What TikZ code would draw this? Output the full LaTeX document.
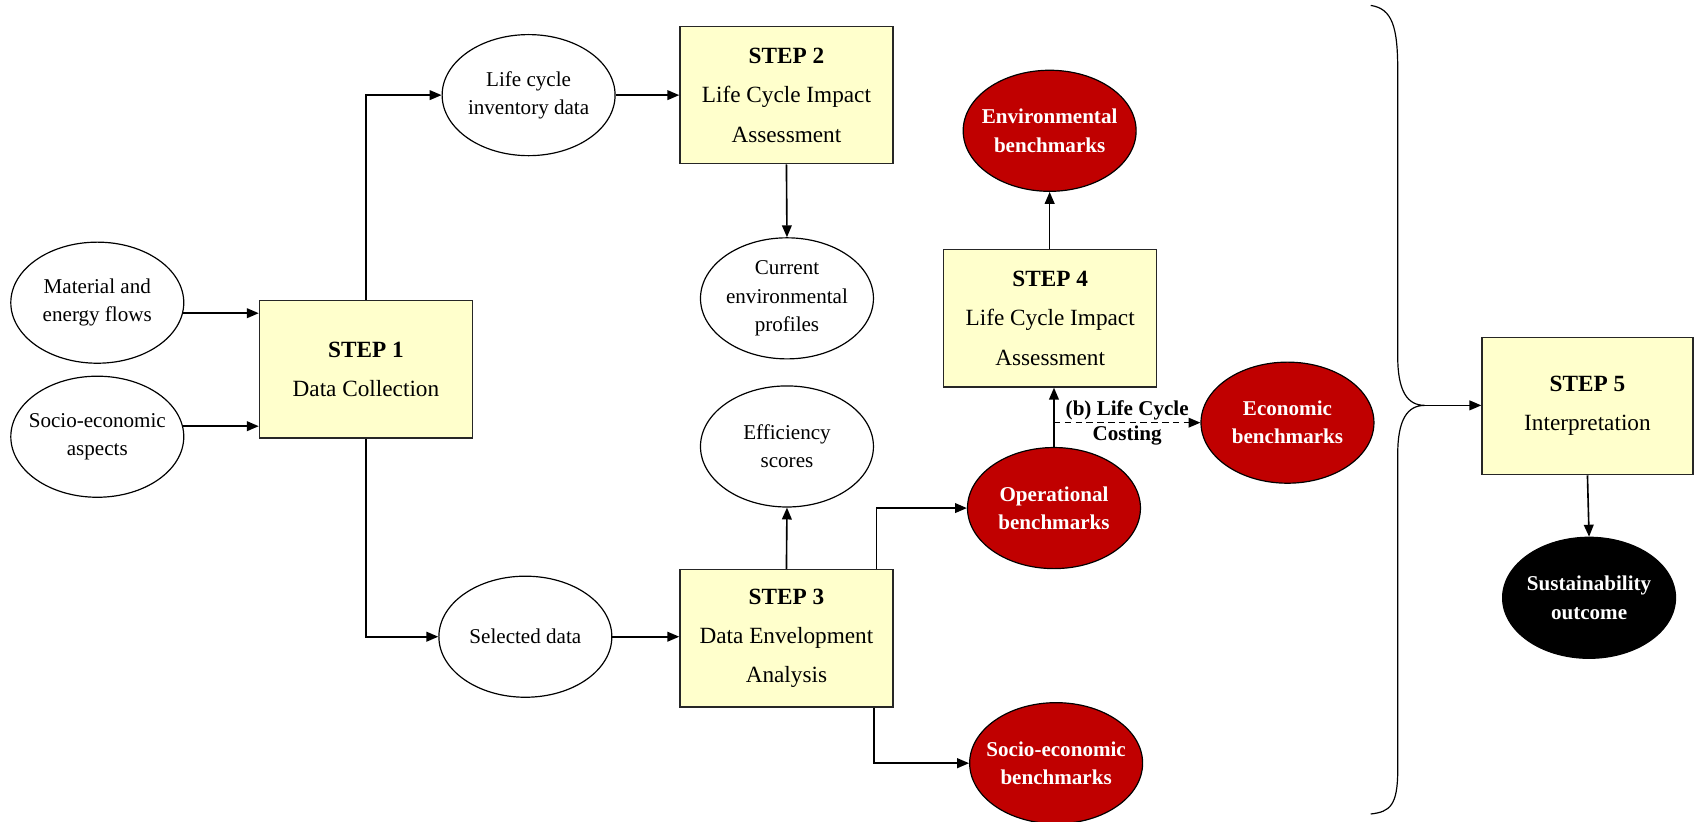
\documentclass[tikz,border=0pt]{standalone}
\usepackage{fontspec}
\setmainfont{Liberation Serif}
\usetikzlibrary{shapes.geometric,arrows.meta,calc}
\definecolor{boxyellow}{HTML}{FFFFCC}
\definecolor{benchred}{HTML}{C00000}
\begin{document}
\begin{tikzpicture}[x=1pt,y=-1pt,
  stepbox/.style={draw=black!85,line width=1.3pt,fill=boxyellow,minimum width=197pt,minimum height=127pt,inner sep=0pt,align=center,font=\fontsize{21.5}{36.5}\selectfont},
  dataell/.style={ellipse,draw,line width=1.1pt,fill=white,minimum width=160pt,minimum height=112pt,inner xsep=-12pt,inner ysep=0pt,align=center,font=\fontsize{19.5}{26}\selectfont},
  redell/.style={dataell,fill=benchred,text=white,font=\fontsize{19.5}{26}\selectfont\bfseries},
  blackell/.style={dataell,fill=black,text=white,font=\fontsize{19.5}{26}\selectfont\bfseries},
  arr/.style={line width=1.5pt,-{Triangle[length=11pt,width=9pt]}},
  lbl/.style={font=\fontsize{19.5}{24}\selectfont\bfseries,inner sep=2pt}]
\useasboundingbox (0,0) rectangle (1568,760);
% nodes
\node[dataell] (mat) at (90,280) {Material and\\energy flows};
\node[dataell] (soc) at (90,404) {Socio-economic\\aspects};
\node[stepbox] (s1) at (338.5,341.5) {\textbf{STEP 1}\\Data Collection};
\node[dataell] (lci) at (489,88) {Life cycle\\inventory data};
\node[stepbox] (s2) at (727.5,88) {\textbf{STEP 2}\\Life Cycle Impact\\Assessment};
\node[dataell] (cur) at (728,276) {Current\\environmental\\profiles};
\node[dataell] (eff) at (728,413) {Efficiency\\scores};
\node[dataell] (sel) at (486,589) {Selected data};
\node[stepbox] (s3) at (727.5,590.5) {\textbf{STEP 3}\\Data Envelopment\\Analysis};
\node[redell] (op) at (975,470) {Operational\\benchmarks};
\node[redell] (seb) at (977,706) {Socio-economic\\benchmarks};
\node[stepbox] (s4) at (971.5,294.5) {\textbf{STEP 4}\\Life Cycle Impact\\Assessment};
\node[redell] (env) at (971,121) {Environmental\\benchmarks};
\node[redell] (eco) at (1191,391) {Economic\\benchmarks};
\node[stepbox,minimum width=195pt] (s5) at (1468.5,375.5) {\textbf{STEP 5}\\Interpretation};
\node[blackell] (sus) at (1470,553) {Sustainability\\outcome};
% connectors
\draw[arr] (mat.-7) -- (mat.-7 -| s1.west);
\draw[arr] (soc.7) -- (soc.7 -| s1.west);
\draw[arr] (s1.north) |- (lci.west);
\draw[arr] (lci.east) -- (lci.east -| s2.west);
\draw[arr] (s2.south) -- (cur.north);
\draw[arr] (s1.south) |- (sel.west);
\draw[arr] (sel.east) -- (sel.east -| s3.west);
\draw[arr] (s3.north) -- (eff.south);
\coordinate (s3top) at ($(s3.north east)+(-16,0)$);
\coordinate (s3bot) at ($(s3.south east)+(-18,0)$);
\draw[arr] (s3top) |- (op.west);
\draw[arr] (s3bot) |- (seb.west);
\draw[arr] (s4.north -| env.south) -- (env.south);
\draw[arr] (op.north) -- (op.north |- s4.south);
\coordinate (br) at (op.north |- eco.west);
\draw[arr,dash pattern=on 6pt off 4pt] (br) -- (eco.west)
  node[lbl,midway,above] {(b) Life Cycle}
  node[lbl,midway,below] {Costing};
% brace
\coordinate (tip) at (1318,375);
\draw[line width=1.1pt] (1268,5) .. controls (1288,8) and (1293,25) .. (1293,65) -- (1293,330)
  .. controls (1293,362) and (1302,375) .. (tip)
  .. controls (1302,375) and (1293,388) .. (1293,420) -- (1293,712)
  .. controls (1293,745) and (1286,751) .. (1268,753);
\draw[arr] (tip) -- (tip -| s5.west);
\draw[arr] (s5.south) -- (sus.north);
\end{tikzpicture}
\end{document}
